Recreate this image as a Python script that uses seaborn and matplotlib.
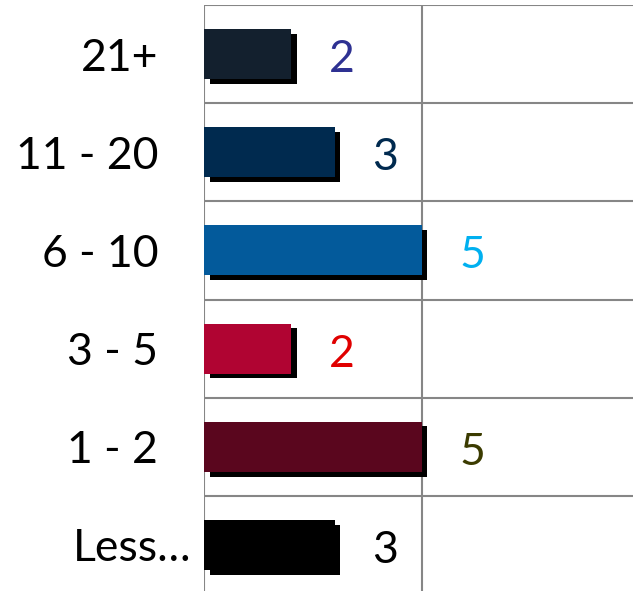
import matplotlib
matplotlib.use("Agg")
import matplotlib.pyplot as plt
import matplotlib.patheffects as pe
import seaborn as sns
import pandas as pd
import numpy as np

categories = ["21+", "11 - 20", "6 - 10", "3 - 5", "1 - 2", "Less…"]
values = [2, 3, 5, 2, 5, 3]
bar_colors = ["#13202e", "#002a4f", "#035a9b", "#b00432", "#5a061e", "#000000"]
label_colors = ["#2e3192", "#002a4f", "#00b0f0", "#e00000", "#3b3b00", "#000000"]

sns.set_style("white")
plt.rcParams["font.family"] = ["Lato", "DejaVu Sans"]

df = pd.DataFrame({"cat": categories, "val": values})

W, H = 633, 591
fig = plt.figure(figsize=(W / 100, H / 100), dpi=100)
# plot area: left edge at x=204px, value 10 lands just past the right edge
ax = fig.add_axes([204 / W, -3 / H, (639 - 204) / W, 589 / H])

sns.barplot(data=df, x="val", y="cat", hue="cat", palette=bar_colors,
            order=categories, hue_order=categories, legend=False, saturation=1,
            width=0.51, orient="h", ax=ax, zorder=3)

# drop shadow under each bar
for p in ax.patches:
    p.set_path_effects([pe.SimplePatchShadow(offset=(4.3, -3.4), shadow_rgbFace="black", alpha=1.0),
                        pe.Normal()])
    p.set_edgecolor("none")

ax.set_xlim(0, 10)
ax.set_ylim(len(categories) - 0.5, -0.5)
ax.set_xticks([0, 5, 10])
ax.set_xticklabels([])
ax.set_yticks(np.arange(-0.5, len(categories)), minor=True)
ax.grid(True, axis="x", which="major", color="#868686", lw=1.5, zorder=0)
ax.grid(True, axis="y", which="minor", color="#868686", lw=1.5, zorder=0)
ax.tick_params(axis="x", length=0)
ax.tick_params(axis="y", which="minor", length=12.2, width=1.5, color="#868686", direction="out")
ax.tick_params(axis="y", which="major", length=0, pad=33, labelsize=32, labelcolor="black")
ax.get_yaxis().get_major_ticks()[-1].set_pad(9)
for s in ax.spines.values():
    s.set_visible(False)
ax.set_xlabel("")
ax.set_ylabel("")

for i, (v, c) in enumerate(zip(values, label_colors)):
    ax.annotate(str(v), xy=(v, i), xytext=(27, -4), textcoords="offset points",
                ha="left", va="center", fontsize=32, color=c)

fig.savefig("out.png", dpi=100)
